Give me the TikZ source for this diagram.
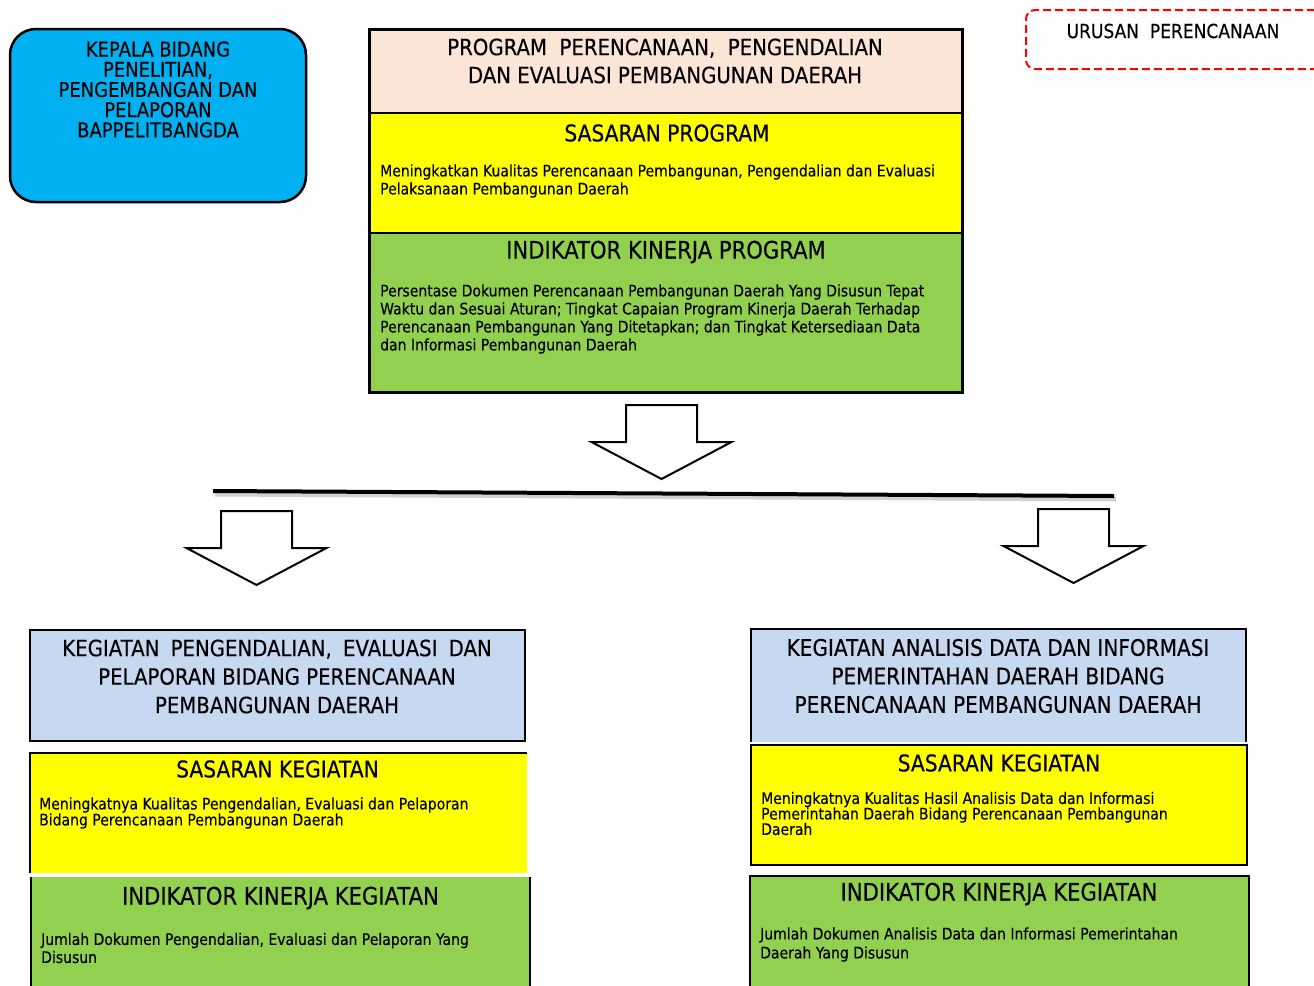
\documentclass[tikz,border=0pt]{standalone}
\usepackage{fontspec}
\setmainfont{DejaVu Sans}[FakeStretch=0.88, FakeBold=0.3]
\definecolor{kcyan}{HTML}{00B0F0}
\definecolor{kpeach}{HTML}{FBE5D6}
\definecolor{kyellow}{HTML}{FFFF00}
\definecolor{kgreen}{HTML}{92D050}
\definecolor{kblue}{HTML}{C6D9F1}
\definecolor{kred}{HTML}{FF0000}
\tikzset{
  panel/.style={inner sep=0pt, outer sep=0pt, anchor=north west},
  edge/.style={draw=black, line width=2.5pt},
  thin edge/.style={draw=black, line width=2pt},
  title/.style={font=\fontsize{22.4}{28}\selectfont, align=center, inner sep=0pt},
  subtitle/.style={font=\fontsize{23}{28}\selectfont, align=center, inner sep=0pt},
  bigsub/.style={font=\fontsize{24}{28}\selectfont, align=center, inner sep=0pt},
  body/.style={font=\fontsize{15.9}{18}\selectfont, align=left, inner sep=0pt, anchor=west},
  blockdown/.pic={
    \draw[line width=2pt, fill=white, line join=miter]
      (-35.5,0) -- (35.5,0) -- (35.5,37) -- (70,37) -- (0,74) -- (-70,37) -- (-35.5,37) -- cycle;
  }
}
\begin{document}
\begin{tikzpicture}[x=1pt,y=-1pt]
\useasboundingbox (0,0) rectangle (1314,985);

% Kepala box
\node[panel, fill=kcyan, draw=black, line width=2.5pt, rounded corners=26pt,
      minimum width=296pt, minimum height=173pt] (kepala) at (10,29) {};
\node[font=\fontsize{20.4}{20.2}\selectfont, align=center, inner sep=0pt] (kepalatext) at (158,89.5)
  {KEPALA BIDANG\\PENELITIAN,\\PENGEMBANGAN DAN\\PELAPORAN\\BAPPELITBANGDA};

% Urusan
\node[panel, draw=kred, line width=2pt, dash pattern=on 8pt off 4pt, rounded corners=9pt,
      minimum width=310pt, minimum height=59pt] (urusan) at (1026,10) {};
\node[font=\fontsize{19.4}{22}\selectfont, inner sep=0pt] (urusantext) at (1173,31) {URUSAN\ \ PERENCANAAN};

% Program box
\node[panel, fill=kpeach, minimum width=593pt, minimum height=84pt] (prog) at (369,29) {};
\node[panel, fill=kyellow, minimum width=593pt, minimum height=120pt] (progsas) at (369,113) {};
\node[panel, fill=kgreen, minimum width=593pt, minimum height=159pt] (progind) at (369,233) {};
\draw[line width=2pt] (progsas.north west) -- (progsas.north east);
\draw[line width=1.5pt] (progind.north west) -- (progind.north east);
\draw[line width=3pt] (prog.north west) rectangle (progind.south east);

\node[title] (progtitle) at (665,61) {PROGRAM\ \ PERENCANAAN,\ \ PENGENDALIAN\\DAN EVALUASI PEMBANGUNAN DAERAH};
\node[subtitle] (progsastitle) at (667,133) {SASARAN PROGRAM};
\node[bigsub] (progindtitle) at (666,252) {INDIKATOR KINERJA PROGRAM};
\node[body] (progsasbody) at (380,181) {Meningkatkan Kualitas Perencanaan Pembangunan, Pengendalian dan Evaluasi\\Pelaksanaan Pembangunan Daerah};
\node[body] (progindbody) at (380,319) {Persentase Dokumen Perencanaan Pembangunan Daerah Yang Disusun Tepat\\Waktu dan Sesuai Aturan; Tingkat Capaian Program Kinerja Daerah Terhadap\\Perencanaan Pembangunan Yang Ditetapkan; dan Tingkat Ketersediaan Data\\dan Informasi Pembangunan Daerah};

% Arrows and bar
\pic at (661.5,405) {blockdown};
\draw[line width=5pt, black!30, opacity=0.6] (215,494) -- (1116,499);
\draw[line width=4pt, line cap=butt] (213,491) coordinate (barL) -- (1114,496) coordinate (barR);
\pic at (256.5,511) {blockdown};
\pic at (1073.5,509) {blockdown};

% Left column
\node[panel, fill=kblue, edge, minimum width=495pt, minimum height=111pt] (lkeg) at (30,630) {};
\node[panel, fill=kyellow, minimum width=497pt, minimum height=120pt] (lsas) at (30,753) {};
\draw[thin edge] (lsas.south west) -- (lsas.north west) -- (lsas.north east);
\node[panel, fill=kgreen, minimum width=499pt, minimum height=125pt] (lind) at (31,877) {};
\draw[thin edge] (lind.north west) -- (lind.south west);
\draw[thin edge] (lind.north east) -- (lind.south east);

\node[title, font=\fontsize{22.4}{28.5}\selectfont] (lkegtitle) at (277,676.5) {KEGIATAN\hspace{0.5em}PENGENDALIAN,\hspace{0.5em}EVALUASI\hspace{0.5em}DAN\\PELAPORAN BIDANG PERENCANAAN\\PEMBANGUNAN DAERAH};
\node[subtitle] (lsastitle) at (277.5,769) {SASARAN KEGIATAN};
\node[body, font=\fontsize{15.9}{16}\selectfont] (lsasbody) at (39,813) {Meningkatnya Kualitas Pengendalian, Evaluasi dan Pelaporan\\Bidang Perencanaan Pembangunan Daerah};
\node[bigsub] (lindtitle) at (280.5,898) {INDIKATOR KINERJA KEGIATAN};
\node[body] (lindbody) at (41,948) {Jumlah Dokumen Pengendalian, Evaluasi dan Pelaporan Yang\\Disusun};

% Right column
\node[panel, fill=kblue, minimum width=495pt, minimum height=113pt] (rkeg) at (751,629) {};
\draw[thin edge] (rkeg.south west) -- (rkeg.north west) -- (rkeg.north east) -- (rkeg.south east);
\node[panel, fill=kyellow, edge, minimum width=496pt, minimum height=120pt] (rsas) at (751,745) {};
\node[panel, fill=kgreen, edge, minimum width=499pt, minimum height=125pt] (rind) at (750,876) {};

\node[title, font=\fontsize{22.8}{28.5}\selectfont] (rkegtitle) at (998,676) {KEGIATAN ANALISIS DATA DAN INFORMASI\\PEMERINTAHAN DAERAH BIDANG\\PERENCANAAN\ PEMBANGUNAN\ DAERAH};
\node[subtitle] (rsastitle) at (999,763) {SASARAN KEGIATAN};
\node[body, font=\fontsize{15.9}{15.5}\selectfont] (rsasbody) at (761,813.5) {Meningkatnya Kualitas Hasil Analisis Data dan Informasi\\Pemerintahan Daerah Bidang Perencanaan Pembangunan\\Daerah};
\node[bigsub] (rindtitle) at (999,894) {INDIKATOR KINERJA KEGIATAN};
\node[body, font=\fontsize{15.9}{19}\selectfont] (rindbody) at (760,944.5) {Jumlah Dokumen Analisis Data dan Informasi Pemerintahan\\Daerah Yang Disusun};
\end{tikzpicture}
\end{document}
